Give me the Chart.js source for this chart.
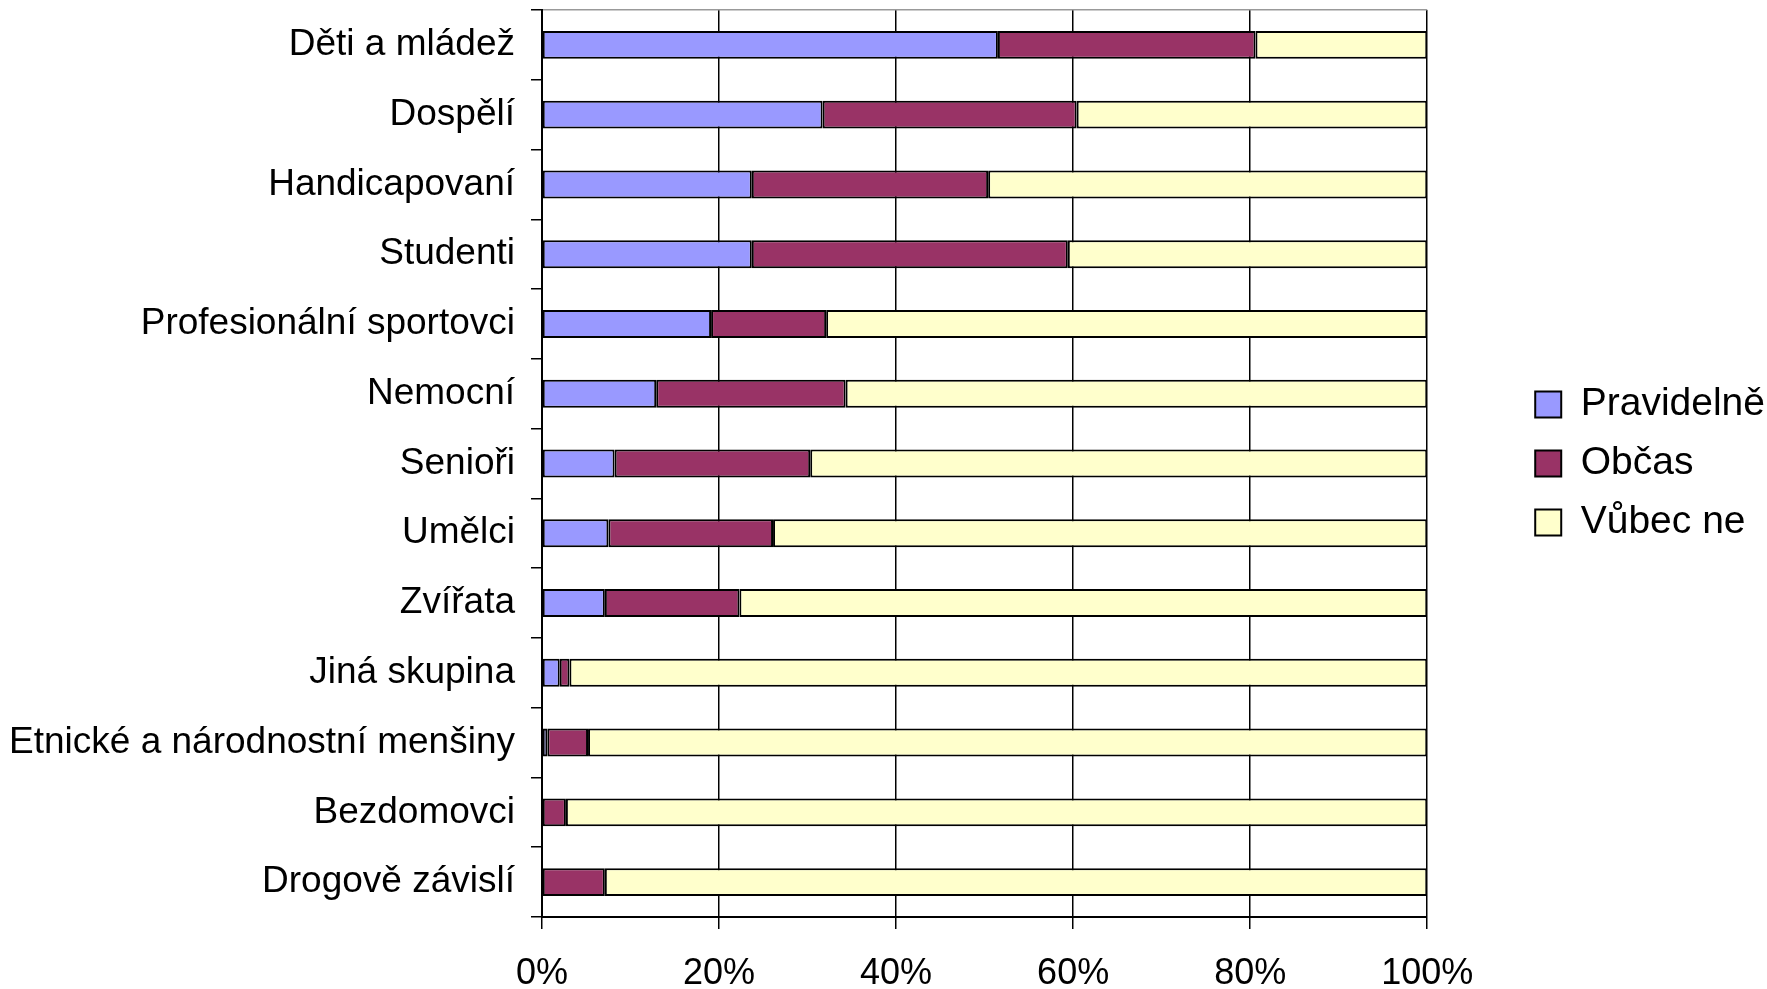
<!DOCTYPE html>
<html>
<head>
<meta charset="utf-8">
<script src="https://cdn.jsdelivr.net/npm/chart.js@4"></script>
<style>
  html, body { margin: 0; padding: 0; background: #fff; }
  #wrap { width: 1767px; height: 989px; }
</style>
</head>
<body>
<div id="wrap"><canvas id="barChart"></canvas></div>
<script>
var categories = ['Děti a mládež', 'Dospělí', 'Handicapovaní', 'Studenti', 'Profesionální sportovci',
    'Nemocní', 'Senioři', 'Umělci', 'Zvířata', 'Jiná skupina',
    'Etnické a národnostní menšiny', 'Bezdomovci', 'Drogově závislí'];
var pravidelne = [51.5, 31.7, 23.7, 23.7, 19.1, 12.9, 8.2, 7.5, 7.1, 2.0, 0.6, 0, 0];
var obcas      = [29.1, 28.7, 26.7, 35.7, 13.0, 21.4, 22.1, 18.6, 15.2, 1.1, 4.6, 2.7, 7.1];
var vubecNe    = [19.4, 39.6, 49.6, 40.6, 67.9, 65.7, 69.7, 73.9, 77.7, 96.9, 94.8, 97.3, 92.9];
var xTicks = [0, 20, 40, 60, 80, 100];

var font = "'Liberation Sans', Arial, sans-serif";

var ctx = document.getElementById('barChart').getContext('2d');

var barChart = new Chart(ctx, {
    type: 'bar',
    data: {
        labels: categories,
        datasets: [{
            label: 'Pravidelně',
            data: pravidelne,
            backgroundColor: '#9999FF',
            borderColor: '#000',
            borderWidth: 2,
            borderSkipped: false
        }, {
            label: 'Občas',
            data: obcas,
            backgroundColor: '#993366',
            borderColor: '#000',
            borderWidth: 2,
            borderSkipped: false
        }, {
            label: 'Vůbec ne',
            data: vubecNe,
            backgroundColor: '#FFFFCC',
            borderColor: '#000',
            borderWidth: 2,
            borderSkipped: false
        }]
    },
    options: {
        indexAxis: 'y',
        responsive: true,
        maintainAspectRatio: false,
        animation: false,
        layout: { padding: { left: 0, right: -8, top: 10, bottom: 1 } },
        datasets: { bar: { barPercentage: 0.4, categoryPercentage: 1 } },
        scales: {
            x: {
                stacked: true,
                min: 0,
                max: 100,
                afterBuildTicks: function (scale) {
                    scale.ticks = xTicks.map(function (v) { return { value: v }; });
                },
                afterFit: function (scale) { scale.height = 71; },
                ticks: {
                    color: '#000',
                    font: { family: font, size: 36, lineHeight: 1 },
                    padding: 27,
                    callback: function (v) { return v + '%'; }
                },
                grid: { color: '#000', lineWidth: 1.5, tickLength: 12, tickColor: '#000' },
                border: { color: '#000', width: 2 }
            },
            y: {
                stacked: true,
                afterFit: function (scale) {
                    scale.width = 542;
                    scale.paddingTop = 0;
                    scale.paddingBottom = 0;
                },
                ticks: {
                    color: '#000',
                    font: { family: font, size: 37 },
                    padding: 16
                },
                grid: {
                    offset: true,
                    tickLength: 11,
                    tickColor: '#000',
                    color: function (c) { return c.index === 0 ? '#999' : 'rgba(0,0,0,0)'; },
                    lineWidth: 1.5
                },
                border: { color: '#000', width: 2 }
            },
            gap: {
                position: 'right',
                display: true,
                grid: { display: false },
                ticks: { display: false },
                border: { display: false },
                afterFit: function (scale) { scale.width = 88; }
            }
        },
        plugins: {
            legend: {
                position: 'right',
                align: 'center',
                fullSize: false,
                labels: {
                    color: '#000',
                    font: { family: font, size: 39 },
                    boxWidth: 26,
                    boxHeight: 26,
                    padding: 20
                }
            },
            tooltip: { enabled: false }
        }
    }
});
</script>
</body>
</html>
